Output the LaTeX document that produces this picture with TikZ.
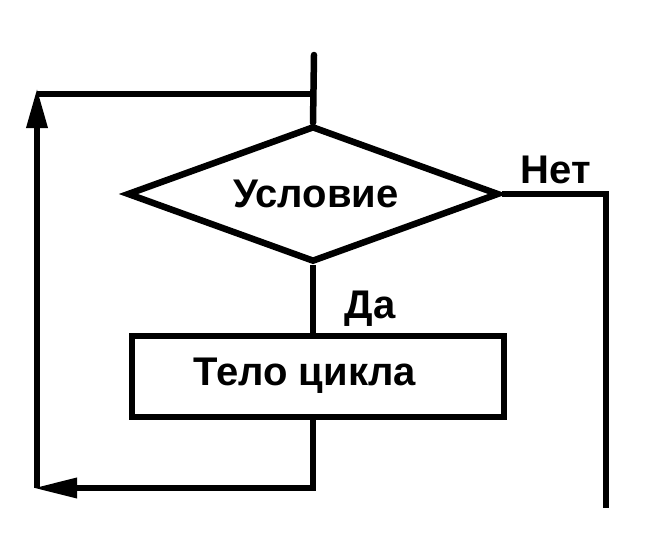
\documentclass[tikz,border=0pt]{standalone}
\usepackage{fontspec}
\setmainfont{Liberation Sans}
\usetikzlibrary{shapes.geometric,arrows.meta}
\tikzset{
  flow/.style={line width=6.5pt, line join=miter},
  lbl/.style={font=\bfseries\fontsize{40}{48}\selectfont, inner sep=0pt, anchor=base},
  upar/.style={-{Triangle[width=20pt,length=40pt]}},
  leftar/.style={-{Triangle[width=19pt,length=44pt]}}
}
\begin{document}
\begin{tikzpicture}[x=1pt,y=-1pt]
\useasboundingbox (0,0) rectangle (652,535);
\node[flow, draw, diamond, minimum width=372pt, minimum height=136pt, inner sep=0pt, aspect=2.7] (cond) at (313,194) {};
\node[flow, draw, rectangle, minimum width=372pt, minimum height=81pt, inner sep=0pt] (body) at (318,376.5) {};
\node[lbl] (tcond) at (316,207) {Условие};
\node[lbl] (tbody) at (305,385) {Тело цикла};
\node[lbl] (tno) at (556,183) {Нет};
\node[lbl] (tyes) at (370,318) {Да};
\coordinate (top) at (314,55);
\coordinate (jt) at (314,94);
\coordinate (tl) at (37,94);
\coordinate (tip) at (37,88);
\coordinate (lb) at (37,488);
\coordinate (bl) at (33,488);
\coordinate (rend) at (606,508);
% entry line
\draw[flow, line cap=round] (top) -- (cond.north);
% return line to top
\draw[flow] (jt) -- (tl);
\draw[flow, upar] (lb) -- (tip);
% yes branch
\draw[flow] (cond.south) -- (body.north -| cond.south);
\draw[flow, leftar] (body.south -| cond.south) -- (cond.south |- bl) -- (bl);
% no branch
\draw[flow] (cond.east) -| (rend);
\end{tikzpicture}
\end{document}
